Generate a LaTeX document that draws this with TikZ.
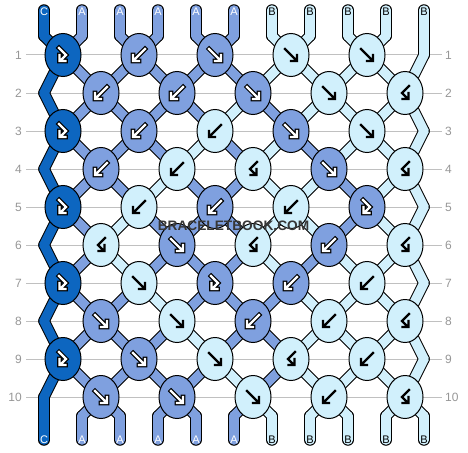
\documentclass[tikz,border=0pt]{standalone}
\usepackage{fontspec}
\setmainfont{Liberation Sans}
\usetikzlibrary{shapes.geometric}
\definecolor{strC}{RGB}{13,102,192}
\definecolor{strA}{RGB}{127,160,223}
\definecolor{strB}{RGB}{209,240,252}
\colorlet{fgC}{white}\colorlet{fgA}{white}\colorlet{fgB}{black}
\colorlet{bgC}{black}\colorlet{bgA}{black}\colorlet{bgB}{strB}
\colorlet{txtC}{white}\colorlet{txtA}{white}\colorlet{txtB}{black}
\definecolor{gridgray}{RGB}{192,192,192}
\definecolor{numgray}{RGB}{150,150,150}
\definecolor{wmgray}{RGB}{55,55,55}
\tikzset{
  knot/.style={ellipse, draw=black, line width=1pt, minimum width=36pt, minimum height=43pt, inner sep=0pt},
  threadout/.style={line width=11.5pt, draw=black, line cap=round, line join=round},
  threadin/.style={line width=9.5pt, line cap=round, line join=round},
  gridline/.style={draw=gridgray, line width=1pt},
  rownum/.style={text=numgray, font=\fontsize{12}{14}\selectfont, inner sep=0pt},
  strlab/.style={font=\fontsize{11}{13}\selectfont, inner sep=0pt},
  wm/.style={font=\bfseries\fontsize{13.7}{16}\selectfont, inner sep=0pt},
  arrowout/.style={line width=4.6pt, line cap=rect, line join=miter},
  arrowin/.style={line width=2.4pt, line cap=rect, line join=miter},
  pics/arf/.style={code={
    \draw[arrowout, draw=bg\kc] (-6,-6) -- (4.5,4.5) (0,6) -- (6,6) -- (6,0);
    \draw[arrowin, draw=fg\kc] (-6,-6) -- (4.5,4.5) (0,6) -- (6,6) -- (6,0);
  }},
  pics/arb/.style={code={
    \draw[arrowout, draw=bg\kc] (6,-6) -- (-4.5,4.5) (0,6) -- (-6,6) -- (-6,0);
    \draw[arrowin, draw=fg\kc] (6,-6) -- (-4.5,4.5) (0,6) -- (-6,6) -- (-6,0);
  }},
  pics/arfb/.style={code={
    \draw[arrowout, draw=bg\kc] (-4,-7) -- (3,0) -- (-2,5) (-3.5,0) -- (-3.5,6) -- (2.5,6);
    \draw[arrowin, draw=fg\kc] (-4,-7) -- (3,0) -- (-2,5) (-3.5,0) -- (-3.5,6) -- (2.5,6);
  }},
  pics/arbf/.style={code={
    \draw[arrowout, draw=bg\kc] (4,-7) -- (-3,0) -- (2,5) (3.5,0) -- (3.5,6) -- (-2.5,6);
    \draw[arrowin, draw=fg\kc] (4,-7) -- (-3,0) -- (2,5) (3.5,0) -- (3.5,6) -- (-2.5,6);
  }},
}
\begin{document}
\begin{tikzpicture}[x=1pt,y=-1pt]
\useasboundingbox (0,0) rectangle (468,452);
% coordinates
\foreach \r in {1,...,10}{
  \foreach \p in {0,...,10}{
    \pgfmathsetmacro\lx{ifthenelse(mod(\r,2)==1, ifthenelse(\p==10,424,63+76*floor(\p/2)), ifthenelse(\p==0,44,63+38*(\p-1+mod(\p,2))))}
    \pgfmathsetmacro\ly{55+38*(\r-1)}
    \coordinate (L-\r-\p) at (\lx,\ly);
  }
}
\foreach \p in {0,...,10}{
  \coordinate (T-\p) at (44+38*\p,10);
  \coordinate (L-0-\p) at (44+38*\p,36);
  \coordinate (L-11-\p) at (44+38*\p,416);
  \coordinate (E-\p) at (44+38*\p,440);
}
% grid lines and row numbers
\foreach \r in {1,...,10}{
  \coordinate (gl-\r) at (26,55+38*\r-38);
  \coordinate (gr-\r) at (442,55+38*\r-38);
  \draw[gridline] (gl-\r) -- (gr-\r);
  \node[rownum, anchor=east] (nl-\r) at (22,55+38*\r-38) {\r};
  \node[rownum, anchor=west] (nr-\r) at (445,55+38*\r-38) {\r};
}
% threads
\def\stages{0/{C,A,A,A,A,A,B,B,B,B,B},1/{C,A,A,A,A,A,B,B,B,B,B},2/{C,A,A,A,A,B,A,B,B,B,B},3/{C,A,A,A,B,A,B,A,B,B,B},4/{C,A,A,B,A,A,B,B,A,B,B},5/{C,A,B,A,A,A,B,B,A,B,B},6/{C,A,B,A,A,A,B,A,B,B,B},7/{C,A,A,B,A,A,A,B,B,B,B},8/{C,A,A,A,B,A,A,B,B,B,B},9/{C,A,A,A,A,B,A,B,B,B,B},10/{C,A,A,A,A,A,B,B,B,B,B}}
\def\ends{C,A,A,A,A,A,B,B,B,B,B}
\foreach \c [count=\p from 0] in \ends{
  \draw[threadout] (T-\p) -- (L-0-\p);
  \draw[threadout] (L-11-\p) -- (E-\p);
}
\foreach \s/\lst in \stages{
  \pgfmathtruncatemacro\t{\s+1}
  \foreach \c [count=\p from 0] in \lst{
    \draw[threadout] (L-\s-\p) -- (L-\t-\p);
  }
}
\foreach \c [count=\p from 0] in \ends{
  \draw[threadin, draw=str\c] (T-\p) -- (L-0-\p);
  \draw[threadin, draw=str\c] (L-11-\p) -- (E-\p);
}
\foreach \s/\lst in \stages{
  \pgfmathtruncatemacro\t{\s+1}
  \foreach \c [count=\p from 0] in \lst{
    \draw[threadin, draw=str\c] (L-\s-\p) -- (L-\t-\p);
  }
}
% string labels
\foreach \c [count=\p from 0] in \ends{
  \node[strlab, text=txt\c] (tl-\p) at (44+38*\p,12) {\c};
  \node[strlab, text=txt\c] (bl-\p) at (44+38*\p,440) {\c};
}
% knots
\foreach \r/\kl in {
  1/{fb/C,b/A,f/A,f/B,f/B},
  2/{b/A,b/A,f/A,f/B,bf/B},
  3/{fb/C,b/A,b/B,f/A,f/B},
  4/{b/A,b/B,bf/B,f/A,bf/B},
  5/{fb/C,b/B,b/A,b/B,fb/A},
  6/{bf/B,f/A,bf/B,b/A,bf/B},
  7/{fb/C,f/B,fb/A,b/A,b/B},
  8/{f/A,f/B,b/A,b/B,bf/B},
  9/{fb/C,f/A,f/B,bf/B,b/B},
  10/{f/A,f/A,f/B,b/B,bf/B}}{
  \foreach \ty/\kc [count=\k from 0] in \kl{
    \pgfmathtruncatemacro\ps{2*\k+1-mod(\r,2)}
    \node[knot, fill=str\kc] (K-\r-\k) at (L-\r-\ps) {};
    \edef\temp{\noexpand\pic at (K-\r-\k) {ar\ty};}\temp
  }
}
% watermark
\node[wm, text=wmgray] (wmt) at (233.5,226) {BRACELETBOOK.COM};
\end{tikzpicture}
\end{document}
